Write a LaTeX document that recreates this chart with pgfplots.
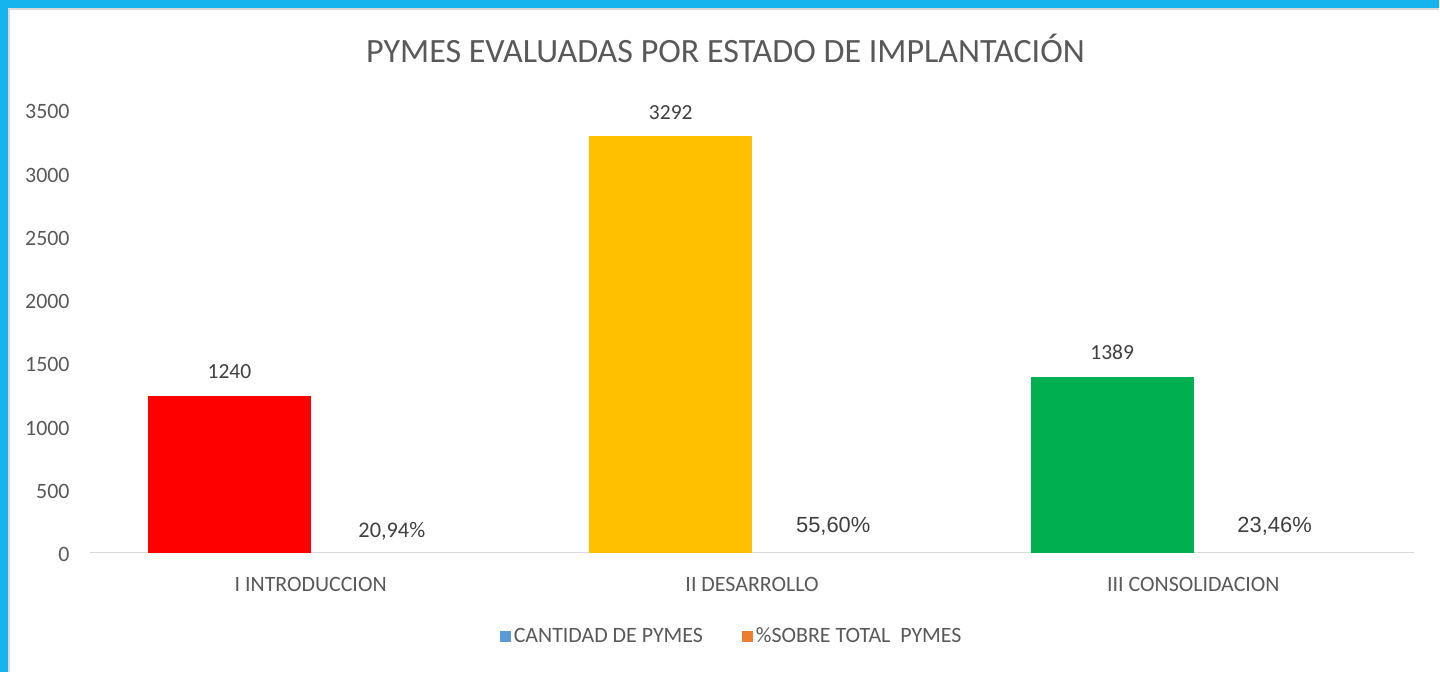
\documentclass[border=0pt]{standalone}
\usepackage{pgfplots}
\pgfplotsset{compat=1.18}
\usepackage{fontspec}
\setmainfont{Carlito}
\newfontfamily\arialf{Liberation Sans}
\definecolor{frameblue}{HTML}{16B4EE}
\definecolor{txtgray}{HTML}{595959}
\definecolor{lblgray}{HTML}{404040}
\definecolor{axgray}{HTML}{D9D9D9}
\definecolor{legblue}{HTML}{5B9BD5}
\definecolor{legorange}{HTML}{ED7D31}
\definecolor{cred}{HTML}{FF0000}
\definecolor{cyellow}{HTML}{FFC000}
\definecolor{cgreen}{HTML}{00B050}
\begin{document}
\begin{tikzpicture}[x=0.5bp,y=0.5bp]
\fill[frameblue] (0,0) rectangle (1440,672);
\fill[white] (9,0) rectangle (1440,663);
\draw[black!15, line width=1bp] (9.5,0) -- (9.5,662.5) -- (1440,662.5);
\node[anchor=base, font=\fontsize{17.1}{19}\selectfont, text=txtgray] at (726,609) {PYMES EVALUADAS POR ESTADO DE IMPLANTACIÓN};
\begin{axis}[
  at={(45bp,59.5bp)}, anchor=south west,
  scale only axis, width=662.5bp, height=221.5bp,
  xmin=-0.5, xmax=2.5, ymin=0, ymax=3500,
  ybar, bar width=0.369,
  axis lines=left,
  y axis line style={draw=none},
  x axis line style={draw=axgray, line width=0.75bp, -},
  major tick length=0pt,
  xtick={0,1,2},
  xticklabels={I INTRODUCCION, II DESARROLLO, III CONSOLIDACION},
  ytick={0,500,...,3500},
  /pgf/number format/assume math mode=true,
  /pgf/number format/1000 sep={},
  tick label style={text=txtgray, font=\fontsize{11}{13}\selectfont},
  xticklabel style={anchor=base, inner sep=0pt, yshift=-19.5bp},
  yticklabel style={anchor=east, inner sep=0pt, xshift=-10bp, yshift=-1bp},
  point meta=explicit symbolic,
  nodes near coords,
  nodes near coords style={anchor=base, inner sep=0pt, text=lblgray, font=\fontsize{10.8}{12}\selectfont},
  legend columns=2,
  legend style={draw=none, fill=none, at={(0.485,-0.19)}, anchor=center,
    font=\fontsize{11}{13}\selectfont, text=txtgray,
    /tikz/every even column/.append style={column sep=18bp},
    nodes={inner sep=1.5bp}},
  legend image code/.code={\fill[#1] (0bp,-2.75bp) rectangle (5.5bp,2.75bp);},
  clip=false,
]
\addlegendimage{fill=legblue, draw=none}
\addlegendentry{CANTIDAD DE PYMES}
\addlegendimage{fill=legorange, draw=none}
\addlegendentry{\%SOBRE TOTAL\ \ PYMES}

\addplot[forget plot, fill=cred, draw=none, bar shift=-0.184, nodes near coords style={yshift=8.5bp}] coordinates {(0,1240) [1240]};
\addplot[forget plot, fill=cyellow, draw=none, bar shift=-0.184, nodes near coords style={yshift=8.5bp}] coordinates {(1,3292) [3292]};
\addplot[forget plot, fill=cgreen, draw=none, bar shift=-0.184, nodes near coords style={yshift=8.5bp}] coordinates {(2,1389) [1389]};

\addplot[forget plot, fill=none, draw=none, bar shift=0.184, nodes near coords style={yshift=7.5bp, font=\fontsize{11.2}{13}\selectfont}] coordinates {(0,0.2094) [20,94\%]};
\addplot[forget plot, fill=none, draw=none, bar shift=0.184, nodes near coords style={yshift=10bp, font=\arialf\fontsize{11}{13}\selectfont}] coordinates {(1,0.5560) [55,60\%]};
\addplot[forget plot, fill=none, draw=none, bar shift=0.184, nodes near coords style={yshift=10bp, font=\arialf\fontsize{11}{13}\selectfont}] coordinates {(2,0.2346) [23,46\%]};
\end{axis}
\end{tikzpicture}
\end{document}
